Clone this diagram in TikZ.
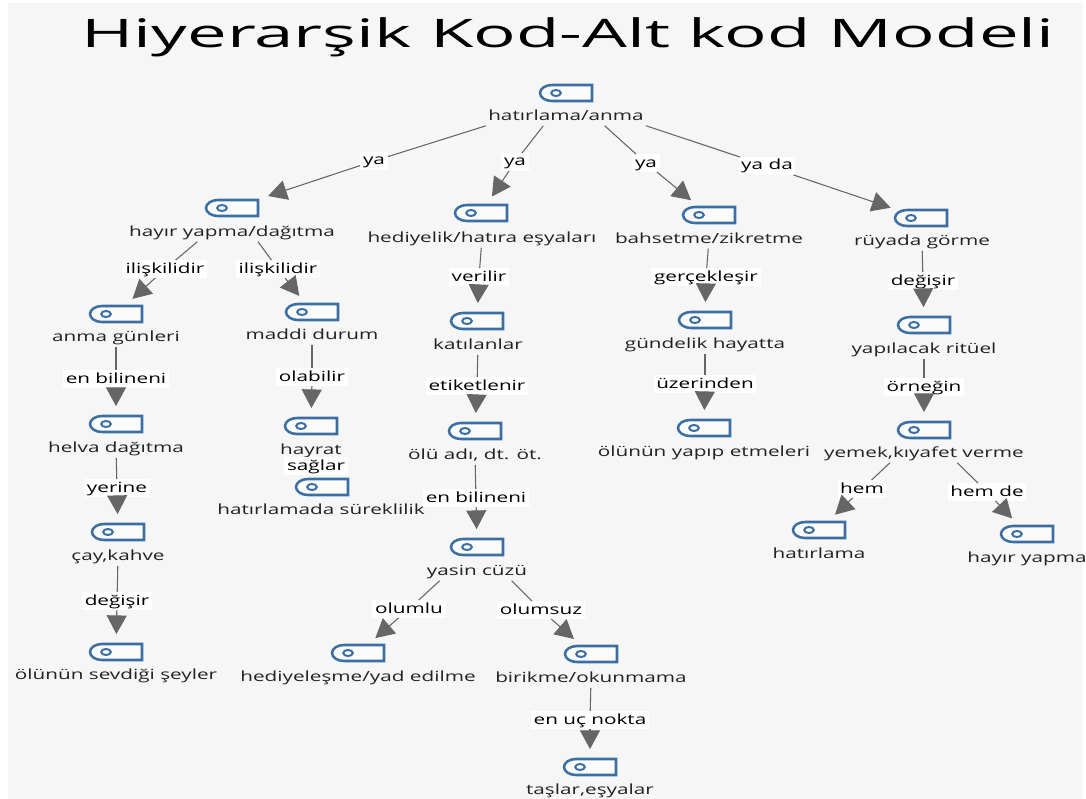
\documentclass[tikz,border=0pt]{standalone}
\usepackage{fontspec}
\setmainfont[FakeStretch=1.48]{Open Sans}
\newfontfamily\titlefont[FakeStretch=1.8]{Open Sans}
\usetikzlibrary{arrows.meta,shapes.misc}
\definecolor{pagegray}{HTML}{F6F6F6}
\definecolor{iconblue}{HTML}{3B6FA3}
\definecolor{linegray}{HTML}{666666}
\definecolor{inkc}{HTML}{222222}
\tikzset{
  iconbox/.style={rounded rectangle,rounded rectangle right arc=none,draw=iconblue,line width=1.9pt,fill=white!60!pagegray,xscale=1.5,transform shape,minimum width=26pt,minimum height=12pt,inner sep=0pt},
  icondot/.style={circle,draw=iconblue,line width=1.5pt,xscale=1.6,transform shape,minimum size=4.5pt,inner sep=0pt},
  conceptlabel/.style={font=\fontsize{10.5pt}{12pt}\selectfont,text=inkc,inner sep=1.5pt,text height=8pt,text depth=2.5pt},
  rellabel/.style={font=\fontsize{10.5pt}{12pt}\selectfont,text=black,fill=white,inner xsep=2pt,inner ysep=1pt,text height=8.5pt,text depth=2.5pt},
  plainline/.style={draw=linegray,line width=0.8pt},
  arrowline/.style={draw=linegray,line width=0.8pt,-{Triangle[length=14pt,width=15pt]},shorten >=6.5pt},
}
\newcommand{\concept}[6]{%
  \node[iconbox] (#1-i) at (#2,#3) {};
  \node[icondot] (#1-d) at ([xshift=-7.5pt]#1-i.center) {};
  \node[conceptlabel] (#1) at (#4,#5+1.5) {#6};
}
\newcommand{\rel}[6]{% from, label id, x, y, text, to
  \node[rellabel] (#2) at (#3,#4+1) {#5};
  \draw[plainline] (#1) -- (#2);
  \draw[arrowline] (#2) -- (#6-i);
}
\begin{document}
\begin{tikzpicture}[x=0.75pt,y=-0.75pt]
\useasboundingbox (0,0) rectangle (1086,799);
\fill[white] (0,0) rectangle (1086,799);
\fill[pagegray] (8,3) rectangle (1083,799);
\node[font=\titlefont\fontsize{29.5pt}{32pt}\selectfont,text=black,inner sep=0pt] (title) at (568,37) {Hiyerarşik Kod-Alt kod Modeli};

\concept{root}{566}{93}{566}{115}{hatırlama/anma}
\concept{hayir}{232}{208}{232}{231}{hayır yapma/dağıtma}
\concept{hediye}{481}{213}{482}{237}{hediyelik/hatıra eşyaları}
\concept{bahsetme}{709}{215}{709}{238}{bahsetme/zikretme}
\concept{ruya}{921}{218}{922}{240}{rüyada görme}
\concept{anma}{116}{314}{116}{336}{anma günleri}
\concept{maddi}{312}{312}{312}{334}{maddi durum}
\concept{katil}{477}{321}{478}{344}{katılanlar}
\concept{gundelik}{705}{320}{705}{343}{gündelik hayatta}
\concept{yapilacak}{924}{325}{924}{348}{yapılacak ritüel}
\concept{helva}{116}{424}{116}{447}{helva dağıtma}
\concept{hayrat}{311}{426}{311}{449}{hayrat}
\concept{sureklilik}{322}{487}{321}{509}{hatırlamada süreklilik}
\concept{olu}{475}{431}{475}{454}{ölü adı, dt. öt.}
\concept{yapipetme}{704}{428}{704}{451}{ölünün yapıp etmeleri}
\concept{yemek}{924}{430}{924}{452}{yemek,kıyafet verme}
\concept{cay}{118}{532}{118}{555}{çay,kahve}
\concept{yasin}{477}{547}{477}{570}{yasin cüzü}
\concept{hatirlama}{819}{530}{819}{553}{hatırlama}
\concept{hayiryapma}{1027}{534}{1027}{557}{hayır yapma}
\concept{sevdigi}{116}{652}{116}{674}{ölünün sevdiği şeyler}
\concept{hediyelesme}{358}{653}{358}{676}{hediyeleşme/yad edilme}
\concept{birikme}{591}{654}{591}{677}{birikme/okunmama}
\concept{taslar}{590}{767}{590}{789}{taşlar,eşyalar}

\rel{root.south west}{l1}{374}{160}{ya}{hayir}
\rel{[xshift=-17pt]root.south}{l2}{515}{161}{ya}{hediye}
\rel{[xshift=29pt]root.south}{l3}{646}{162}{ya}{bahsetme}
\rel{root.south east}{l4}{767}{165}{ya da}{ruya}
\rel{[xshift=-26pt]hayir.south}{l5}{165}{268}{ilişkilidir}{anma}
\rel{[xshift=19.5pt]hayir.south}{l6}{278}{268}{ilişkilidir}{maddi}
\rel{hediye}{l7}{479}{276}{verilir}{katil}
\rel{bahsetme}{l8}{706}{276}{gerçekleşir}{gundelik}
\rel{ruya}{l9}{923}{280}{değişir}{yapilacak}
\rel{anma}{l10}{116}{378}{en bilineni}{helva}
\rel{maddi}{l11}{312}{376}{olabilir}{hayrat}
\rel{katil}{l12}{477}{385}{etiketlenir}{olu}
\rel{gundelik}{l13}{705}{383}{üzerinden}{yapipetme}
\rel{yapilacak}{l14}{924}{386}{örneğin}{yemek}
\rel{helva}{l15}{117}{487}{yerine}{cay}
\rel{olu}{l16}{476}{497}{en bilineni}{yasin}
\rel{cay}{l17}{117}{600}{değişir}{sevdigi}
\rel{[xshift=-25.5pt]yemek.south}{l18}{862}{488}{hem}{hatirlama}
\rel{[xshift=25pt]yemek.south}{l19}{987}{491}{hem de}{hayiryapma}
\rel{[xshift=-28pt]yasin.south}{l20}{409}{608}{olumlu}{hediyelesme}
\rel{[xshift=26pt]yasin.south}{l21}{541}{609}{olumsuz}{birikme}
\rel{birikme}{l22}{590}{719}{en uç nokta}{taslar}
\node[rellabel] (l23) at (316,466) {sağlar};
\end{tikzpicture}
\end{document}
